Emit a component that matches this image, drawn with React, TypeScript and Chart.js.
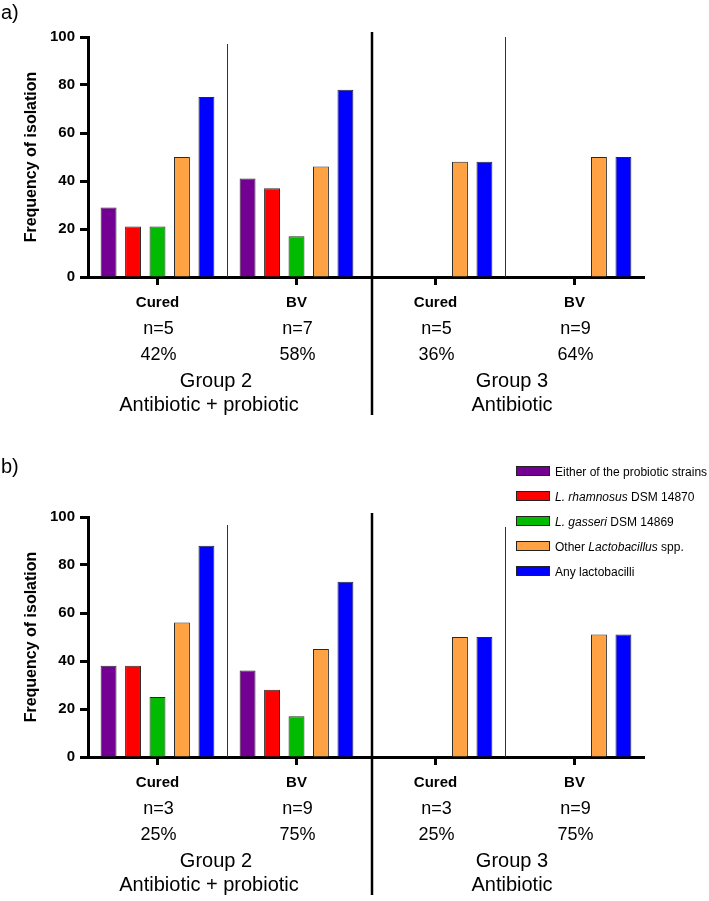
import React, { useEffect, useRef } from "react";
import { Chart, registerables } from "chart.js";

Chart.register(...registerables);

// ---------- data ----------
const categories = ["Cured", "BV", "Cured", "BV"];
const groupNames = ["Group 2", "Group 3"];
const treatments = ["Antibiotic + probiotic", "Antibiotic"];
const yTicks = [0, 20, 40, 60, 80, 100];
const yTitle = "Frequency of isolation";

const nA = ["n=5", "n=7", "n=5", "n=9"];
const pctA = ["42%", "58%", "36%", "64%"];
const nB = ["n=3", "n=9", "n=3", "n=9"];
const pctB = ["25%", "75%", "25%", "75%"];

const seriesNames = [
  "Either of the probiotic strains",
  "L. rhamnosus DSM 14870",
  "L. gasseri DSM 14869",
  "Other Lactobacillus spp.",
  "Any lactobacilli",
];

// panel a
const eitherA = [29, 41, null, null];
const rhamnosusA = [21, 37, null, null];
const gasseriA = [21, 17, null, null];
const otherA = [50, 46, 48, 50];
const anyA = [75, 78, 48, 50];

// panel b
const eitherB = [38, 36, null, null];
const rhamnosusB = [38, 28, null, null];
const gasseriB = [25, 17, null, null];
const otherB = [56, 45, 50, 51];
const anyB = [88, 73, 50, 51];

// legend text parts (italic flags)
const legendParts = [
  [{ t: "Either of the probiotic strains", i: false }],
  [{ t: "L. rhamnosus", i: true }, { t: " DSM 14870", i: false }],
  [{ t: "L. gasseri", i: true }, { t: " DSM 14869", i: false }],
  [{ t: "Other ", i: false }, { t: "Lactobacillus", i: true }, { t: " spp.", i: false }],
  [{ t: "Any lactobacilli", i: false }],
];

const colors = ["#730092", "#ff0000", "#00bb00", "#ffa243", "#0000ff"];
const FONT = '"Liberation Sans", Arial, Helvetica, sans-serif';

type PanelCfg = {
  letter: string;
  letterOffset: number;
  series: (number | null)[][];
  n: string[];
  pct: string[];
  legend: boolean;
  height: number;
  top: number;
  thinTops: number[];
  thickTop: number;
};

function makeOverlay(cfg: PanelCfg) {
  return {
    id: "overlay",
    afterDraw(chart: any) {
      const { ctx, chartArea: ca, scales } = chart;
      const x = scales.x;
      ctx.save();
      ctx.fillStyle = "#000";
      ctx.strokeStyle = "#000";

      // category labels
      ctx.textAlign = "center";
      ctx.textBaseline = "alphabetic";
      categories.forEach((c, i) => {
        const px = x.getPixelForValue(i);
        ctx.font = `bold 15px ${FONT}`;
        ctx.fillText(c, px, ca.bottom + 30);
        ctx.font = `18px ${FONT}`;
        ctx.fillText(cfg.n[i], px + 1, ca.bottom + 57);
        ctx.fillText(cfg.pct[i], px + 1, ca.bottom + 83);
      });

      // group labels
      const mids = [
        (x.getPixelForValue(0) + x.getPixelForValue(1)) / 2,
        (x.getPixelForValue(2) + x.getPixelForValue(3)) / 2,
      ];
      const gOff = [-11, 7];
      const tOff = [-18, 7];
      ctx.font = `20px ${FONT}`;
      groupNames.forEach((g, i) => ctx.fillText(g, mids[i] + gOff[i], ca.bottom + 110));
      treatments.forEach((t, i) => ctx.fillText(t, mids[i] + tOff[i], ca.bottom + 134));

      // thin dividers inside groups
      ctx.strokeStyle = "#333";
      ctx.lineWidth = 1;
      [0.5, 2.5].forEach((v, i) => {
        const px = Math.round(x.getPixelForValue(v)) + 0.5;
        ctx.beginPath();
        ctx.moveTo(px, ca.top + cfg.thinTops[i]);
        ctx.lineTo(px, ca.bottom);
        ctx.stroke();
      });

      // thick divider between groups
      ctx.strokeStyle = "#000";
      ctx.lineWidth = 2.5;
      const dx = x.getPixelForValue(1.5) + 6;
      ctx.beginPath();
      ctx.moveTo(dx, ca.top + cfg.thickTop);
      ctx.lineTo(dx, ca.bottom + 138);
      ctx.stroke();

      // y title
      ctx.save();
      ctx.translate(32, (ca.top + ca.bottom) / 2);
      ctx.rotate(-Math.PI / 2);
      ctx.textAlign = "center";
      ctx.textBaseline = "middle";
      ctx.font = `bold 16px ${FONT}`;
      ctx.fillText(yTitle, 0, 0);
      ctx.restore();

      // panel letter
      ctx.textAlign = "left";
      ctx.textBaseline = "middle";
      ctx.font = `20px ${FONT}`;
      ctx.fillText(cfg.letter, 1, ca.top + cfg.letterOffset);

      // legend
      if (cfg.legend) {
        const lx = ca.right - 128;
        const y0 = ca.top - 46;
        legendParts.forEach((parts, i) => {
          const cy = y0 + i * 25;
          ctx.fillStyle = colors[i];
          ctx.fillRect(lx, cy - 5, 34, 10);
          ctx.strokeStyle = "#222";
          ctx.lineWidth = 1;
          ctx.strokeRect(lx + 0.5, cy - 4.5, 33, 9);
          ctx.fillStyle = "#000";
          ctx.textBaseline = "alphabetic";
          let tx = lx + 39;
          parts.forEach((p) => {
            ctx.font = `${p.i ? "italic " : ""}12px ${FONT}`;
            ctx.fillText(p.t, tx, cy + 4.5);
            tx += ctx.measureText(p.t).width;
          });
        });
      }
      ctx.restore();
    },
  };
}

function Panel({ cfg }: { cfg: PanelCfg }) {
  const ref = useRef<HTMLCanvasElement>(null);
  useEffect(() => {
    if (!ref.current) return;
    const chart = new Chart(ref.current, {
      type: "bar",
      data: {
        labels: categories,
        datasets: cfg.series.map((d, i) => ({
          label: seriesNames[i],
          data: d,
          backgroundColor: colors[i],
          borderColor: "#2a2a2a",
          borderWidth: 1,
          categoryPercentage: 0.88,
          barPercentage: 0.65,
        })),
      },
      options: {
        responsive: false,
        animation: false,
        events: [],
        layout: { padding: { top: cfg.top, left: 0, right: 65, bottom: 0 } },
        plugins: { legend: { display: false }, tooltip: { enabled: false } },
        scales: {
          x: {
            type: "category",
            offset: true,
            grid: {
              offset: false,
              display: true,
              drawOnChartArea: false,
              drawTicks: true,
              tickLength: 8,
              tickWidth: 3,
              tickColor: "#000",
            },
            border: { display: true, width: 3, color: "#000" },
            ticks: { display: false },
            afterFit: (s: any) => {
              s.height = cfg.height - cfg.top - 240;
            },
          },
          y: {
            min: 0,
            max: 100,
            afterBuildTicks: (s: any) => {
              s.ticks = yTicks.map((v) => ({ value: v }));
            },
            grid: {
              display: true,
              drawOnChartArea: false,
              drawTicks: true,
              tickLength: 8,
              tickWidth: 3,
              tickColor: "#000",
            },
            border: { display: true, width: 3, color: "#000" },
            ticks: {
              color: "#000",
              padding: 5,
              font: { family: FONT, size: 15, weight: "bold" },
            },
            afterFit: (s: any) => {
              s.width = 88;
            },
          },
        },
      },
      plugins: [makeOverlay(cfg)],
    });
    return () => chart.destroy();
  }, [cfg]);
  return (
    <canvas
      ref={ref}
      width={709}
      height={cfg.height}
      style={{ display: "block", width: 709, height: cfg.height }}
    />
  );
}

const panelA: PanelCfg = {
  letter: "a)",
  letterOffset: -24,
  series: [eitherA, rhamnosusA, gasseriA, otherA, anyA],
  n: nA,
  pct: pctA,
  legend: false,
  height: 440,
  top: 37,
  thinTops: [7, 0],
  thickTop: -5,
};

const panelB: PanelCfg = {
  letter: "b)",
  letterOffset: -50,
  series: [eitherB, rhamnosusB, gasseriB, otherB, anyB],
  n: nB,
  pct: pctB,
  legend: true,
  height: 461,
  top: 77,
  thinTops: [8, 10],
  thickTop: -4,
};

export default function App() {
  return (
    <div
      style={{
        position: "absolute",
        left: 0,
        top: 0,
        width: 709,
        height: 901,
        background: "#fff",
        overflow: "hidden",
      }}
    >
      <Panel cfg={panelA} />
      <Panel cfg={panelB} />
    </div>
  );
}
